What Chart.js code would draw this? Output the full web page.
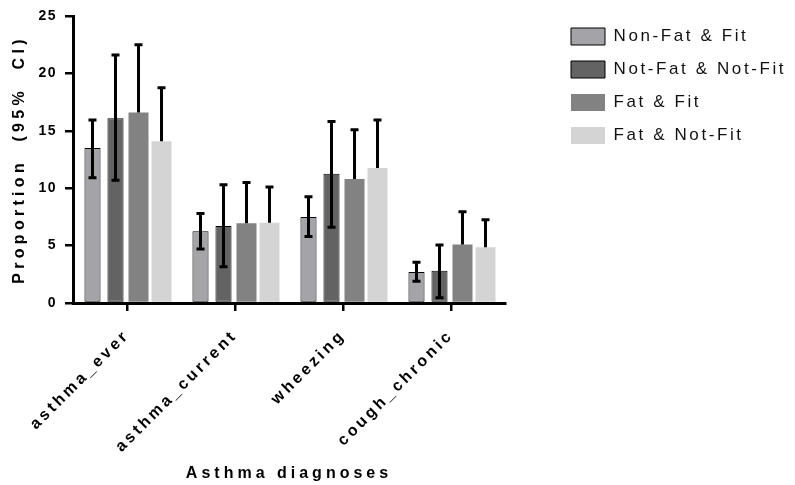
<!DOCTYPE html>
<html>
<head>
<meta charset="utf-8">
<script src="https://cdn.jsdelivr.net/npm/chart.js@4"></script>
<style>
  html, body { margin: 0; background: #fff; }
  #wrap { width: 795px; height: 485px; }
</style>
</head>
<body>
<div id="wrap"><canvas id="chart"></canvas></div>
<script>
// Data
const categories = ['asthma_ever', 'asthma_current', 'wheezing', 'cough_chronic'];
const groupNames = ['Non-Fat & Fit', 'Not-Fat & Not-Fit', 'Fat & Fit', 'Fat & Not-Fit'];

const nonFatFit = [13.5, 6.25, 7.5, 2.7];
const nonFatFitUpper = [15.95, 7.8, 9.25, 3.55];
const nonFatFitLower = [10.9, 4.7, 5.8, 1.9];

const notFatNotFit = [16.1, 6.7, 11.25, 2.8];
const notFatNotFitUpper = [21.6, 10.3, 15.8, 5.05];
const notFatNotFitLower = [10.7, 3.15, 6.6, 0.45];

const fatFit = [16.6, 6.95, 10.8, 5.1];
const fatFitUpper = [22.5, 10.5, 15.1, 7.95];

const fatNotFit = [14.1, 7.0, 11.75, 4.85];
const fatNotFitUpper = [18.75, 10.1, 15.95, 7.25];

const yMin = 0;
const yMax = 25;
const yStep = 5;

const FONT = "'Liberation Sans', Arial, sans-serif";

// Wrap a draw method so its text gets letter spacing (the figure uses spaced-out type)
function spaced(obj, method, px) {
  const orig = obj[method];
  obj[method] = function (...args) {
    const ctx = this.ctx;
    const prev = ctx.letterSpacing;
    ctx.letterSpacing = px;
    orig.apply(this, args);
    ctx.letterSpacing = prev;
  };
}

const layoutTweaks = {
  id: 'layoutTweaks',
  beforeLayout(chart) {
    const legend = chart.legend;
    if (legend && !legend._patched) {
      const fit = legend.fit;
      legend.fit = function () {
        fit.call(this);
        this.width = 290;
      };
      spaced(legend, 'draw', '2.6px');
      legend._patched = true;
    }
  },
  afterLayout(chart) {
    // legend sits further right than the chart area edge
    chart.legend.left = 555;
    const { x, y } = chart.scales;
    if (!x._patched) {
      spaced(x, 'drawLabels', '3.2px');
      spaced(x, 'drawTitle', '4px');
      x._patched = true;
    }
    if (!y._patched) {
      spaced(y, 'drawLabels', '1.5px');
      spaced(y, 'drawTitle', '4.3px');
      y._patched = true;
    }
  }
};

// Error bars (95% CI)
const errorBars = {
  id: 'errorBars',
  afterDatasetsDraw(chart) {
    const { ctx } = chart;
    const yScale = chart.scales.y;
    ctx.save();
    ctx.strokeStyle = '#000';
    ctx.lineWidth = 3;
    chart.data.datasets.forEach((ds, i) => {
      chart.getDatasetMeta(i).data.forEach((bar, j) => {
        const top = yScale.getPixelForValue(ds.upper[j]);
        const bottom = ds.lower ? yScale.getPixelForValue(ds.lower[j]) : bar.y;
        ctx.beginPath();
        ctx.moveTo(bar.x, bottom);
        ctx.lineTo(bar.x, top);
        ctx.moveTo(bar.x - 4, top);
        ctx.lineTo(bar.x + 4, top);
        if (ds.lower) {
          ctx.moveTo(bar.x - 4, bottom);
          ctx.lineTo(bar.x + 4, bottom);
        }
        ctx.stroke();
      });
    });
    ctx.restore();
  }
};

const chart = new Chart(document.getElementById('chart'), {
  type: 'bar',
  data: {
    labels: categories,
    datasets: [{
      label: groupNames[0],
      data: nonFatFit,
      upper: nonFatFitUpper,
      lower: nonFatFitLower,
      backgroundColor: '#a3a3a8',
      borderColor: '#000',
      borderWidth: 1,
      borderSkipped: false,
      barPercentage: 0.7
    }, {
      label: groupNames[1],
      data: notFatNotFit,
      upper: notFatNotFitUpper,
      lower: notFatNotFitLower,
      backgroundColor: '#636363',
      borderColor: '#000',
      borderWidth: 1,
      borderSkipped: false,
      barPercentage: 0.7
    }, {
      label: groupNames[2],
      data: fatFit,
      upper: fatFitUpper,
      backgroundColor: '#828282',
      borderWidth: 0,
      barPercentage: 0.87
    }, {
      label: groupNames[3],
      data: fatNotFit,
      upper: fatNotFitUpper,
      backgroundColor: '#d4d4d4',
      borderWidth: 0,
      barPercentage: 0.87
    }]
  },
  options: {
    responsive: true,
    maintainAspectRatio: false,
    animation: false,
    categoryPercentage: 0.852,
    layout: { padding: { top: 12, right: 0, bottom: 0, left: 0 } },
    plugins: {
      legend: {
        position: 'right',
        align: 'start',
        labels: {
          boxWidth: 34,
          boxHeight: 17,
          padding: 16,
          color: '#111',
          font: { family: FONT, size: 17 }
        }
      },
      tooltip: { enabled: false }
    },
    scales: {
      x: {
        grid: {
          display: true,
          drawOnChartArea: false,
          drawTicks: true,
          tickLength: 8,
          offset: false,
          color: '#000',
          lineWidth: 2.5
        },
        border: { color: '#000', width: 3 },
        ticks: {
          minRotation: 45,
          maxRotation: 45,
          padding: 15,
          color: '#000',
          font: { family: FONT, size: 16, weight: 'bold' }
        },
        title: {
          display: true,
          text: 'Asthma diagnoses',
          color: '#000',
          font: { family: FONT, size: 16, weight: 'bold' },
          padding: { top: 0, bottom: 2 }
        },
        afterFit: (scale) => {
          scale.height = 182;
          scale.paddingLeft = 0;
          scale.paddingRight = 0;
        }
      },
      y: {
        min: yMin,
        max: yMax,
        grid: {
          display: true,
          drawOnChartArea: false,
          drawTicks: true,
          tickLength: 8,
          color: '#000',
          lineWidth: 2.5
        },
        border: { color: '#000', width: 3 },
        ticks: {
          stepSize: yStep,
          padding: 8,
          color: '#000',
          font: { family: FONT, size: 14, weight: 'bold' }
        },
        title: {
          display: true,
          text: 'Proportion  (95%  CI)',
          color: '#000',
          font: { family: FONT, size: 16, weight: 'bold' },
          padding: { top: 10, bottom: 0 }
        },
        afterFit: (scale) => {
          scale.width = 73;
          scale.paddingTop = 16;
        }
      }
    }
  },
  plugins: [layoutTweaks, errorBars]
});
</script>
</body>
</html>
